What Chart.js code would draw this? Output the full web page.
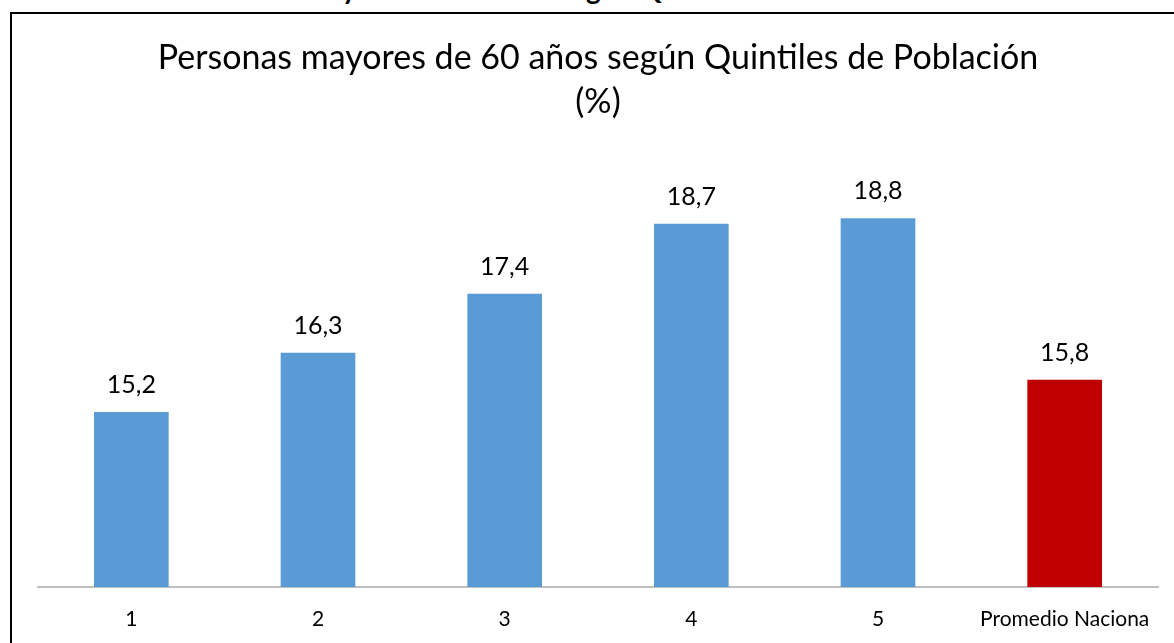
<!DOCTYPE html>
<html>
<head>
<meta charset="utf-8">
<script src="https://cdn.jsdelivr.net/npm/chart.js@4"></script>
<style>
  html, body { margin: 0; padding: 0; background: #fff; overflow: hidden; }
  body { width: 1174px; height: 643px; position: relative; font-family: Lato, "Open Sans", sans-serif; }
  #header { position: absolute; left: 15px; top: -26px; font: bold 28px/28px Lato, sans-serif; color: #000; white-space: nowrap; }
  #frame { position: absolute; left: 10px; top: 12px; width: 1200px; height: 700px; border: 2px solid #000; }
  #wrap { position: absolute; left: 0; top: 0; width: 1174px; height: 643px; }
</style>
</head>
<body>
<div id="header">Gráfico N° 5: Personas Mayores de 60 años según Quintiles de Población</div>
<div id="frame"></div>
<div id="wrap"><canvas id="chart" width="1174" height="643"></canvas></div>
<script>
// --- DATA ---
const categories = ['1', '2', '3', '4', '5', 'Promedio Naciona'];
const values = [15.2, 16.3, 17.4, 18.7, 18.8, 15.8];
const barColors = ['#5b9bd5', '#5b9bd5', '#5b9bd5', '#5b9bd5', '#5b9bd5', '#c00000'];
const titleLines = ['Personas mayores de 60 años según Quintiles de Población', '(%)'];

const FONT = 'Lato, "Open Sans", sans-serif';
function fmt(v) { return v.toFixed(1).replace('.', ','); }

// value labels above each bar
const valueLabels = {
  id: 'valueLabels',
  afterDatasetsDraw(chart) {
    const ctx = chart.ctx;
    const meta = chart.getDatasetMeta(0);
    ctx.save();
    ctx.font = '25px ' + FONT;
    ctx.fillStyle = '#000';
    ctx.textAlign = 'center';
    ctx.textBaseline = 'middle';
    meta.data.forEach((bar, i) => {
      ctx.fillText(fmt(values[i]), bar.x, bar.y - 27);
    });
    ctx.restore();
  }
};

const ctx = document.getElementById('chart').getContext('2d');
new Chart(ctx, {
  type: 'bar',
  data: {
    labels: categories,
    datasets: [{
      data: values,
      backgroundColor: barColors,
      categoryPercentage: 1,
      barPercentage: 0.4,
    }]
  },
  options: {
    responsive: false,
    animation: false,
    layout: { padding: { left: 38, right: 16, top: 0, bottom: 17 } },
    plugins: {
      legend: { display: false },
      tooltip: { enabled: false },
      title: {
        display: true,
        text: titleLines,
        color: '#000',
        font: { family: FONT, size: 34, weight: 'normal', lineHeight: 1.3 },
        padding: { top: 36, bottom: 32 }
      }
    },
    scales: {
      x: {
        grid: { display: false, drawTicks: false },
        border: { display: true, color: '#bfbfbf', width: 2 },
        ticks: { color: '#000', padding: 20, font: { family: FONT, size: 21 } },
        afterFit(scale) { scale.height = 39; }
      },
      y: {
        display: false,
        min: 11.95,
        max: 19.95
      }
    }
  },
  plugins: [valueLabels]
});
</script>
</body>
</html>
